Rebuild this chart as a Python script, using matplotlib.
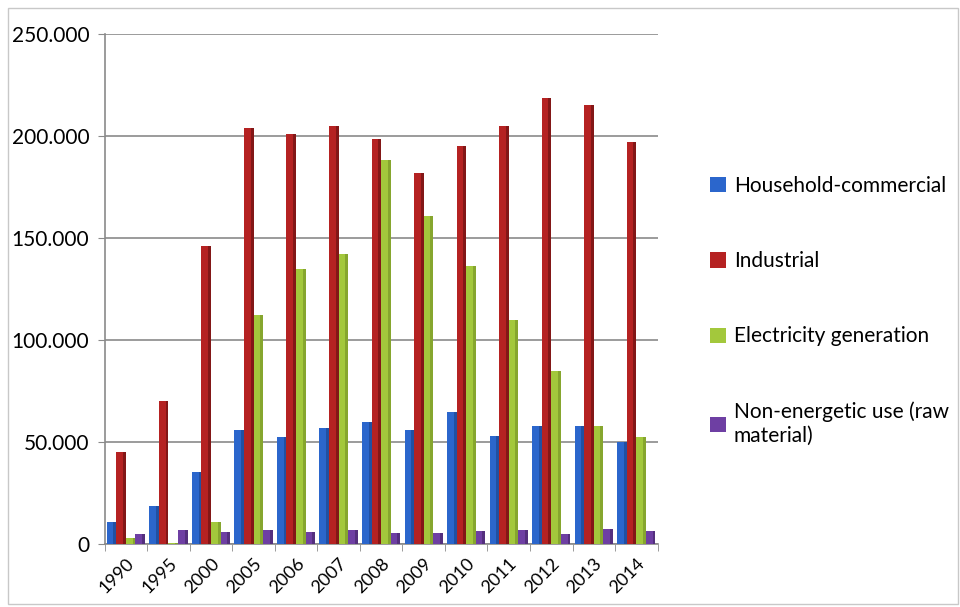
import numpy as np
import matplotlib.pyplot as plt
from matplotlib.ticker import FuncFormatter, FixedLocator
from matplotlib.patches import Rectangle

plt.rcParams['font.family'] = ['Lato', 'DejaVu Sans']

years = ['1990', '1995', '2000', '2005', '2006', '2007', '2008', '2009',
         '2010', '2011', '2012', '2013', '2014']
household = [10800, 18600, 35000, 56000, 52500, 57000, 60000, 56000, 64700, 53000, 58000, 58000, 50000]
industrial = [45000, 70000, 146000, 204000, 201000, 205000, 198500, 182000, 195000, 205000, 218600, 215000, 197000]
electricity = [3000, 500, 10500, 112000, 135000, 142000, 188000, 161000, 136000, 110000, 85000, 58000, 52500]
non_energetic = [5000, 7000, 6000, 7000, 6000, 7000, 5500, 5500, 6500, 7000, 5000, 7500, 6500]

series = [
    ('Household-commercial', household, '#2b66cc', '#1a3f80'),
    ('Industrial', industrial, '#b52222', '#5a0f0f'),
    ('Electricity generation', electricity, '#a3c83c', '#6f8a24'),
    ('Non-energetic use (raw\nmaterial)', non_energetic, '#6e3fa3', '#3f2360'),
]

fig = plt.figure(figsize=(9.6, 6.07), dpi=100)
ax = fig.add_axes([0.109, 0.104, 0.576, 0.84])

x = np.arange(len(years))
w = 0.225
handles = []
for i, (name, vals, col, dark) in enumerate(series):
    pos = x + (i - 1.5) * w
    b = ax.bar(pos, vals, width=w, color=col, zorder=3, label=name)
    # darker strip on the right side for the 3D look
    ax.bar(pos + w * 0.35, vals, width=w * 0.3, color=dark, zorder=3, alpha=0.55)
    handles.append(b)

ax.set_xlim(-0.5, len(years) - 0.5)
ax.set_ylim(0, 250000)
ax.set_yticks(np.arange(0, 250001, 50000))
ax.yaxis.set_major_formatter(FuncFormatter(lambda v, p: '0' if v == 0 else f'{int(v):,}'.replace(',', '.')))
ax.grid(axis='y', color='#8a8a8a', linewidth=1.2, zorder=0)

ax.set_xticks(x)
ax.set_xticklabels(years, rotation=45, ha='right', rotation_mode='anchor', fontsize=13)
ax.xaxis.set_minor_locator(FixedLocator(np.arange(-0.5, len(years), 1)))
ax.tick_params(axis='x', which='major', length=0, pad=8)
ax.tick_params(axis='x', which='minor', length=5, color='#8a8a8a')
ax.tick_params(axis='y', length=5, color='#8a8a8a', labelsize=15, pad=6)

for s in ['top', 'right']:
    ax.spines[s].set_visible(False)
for s in ['left', 'bottom']:
    ax.spines[s].set_color('#8a8a8a')
    ax.spines[s].set_linewidth(1.2)

fig.legend(handles=handles, loc='center left', bbox_to_anchor=(0.72, 0.488),
           frameon=False, fontsize=15, labelspacing=2.65, handlelength=0.75,
           handleheight=0.75, handletextpad=0.4)

fig.patches.append(Rectangle((0.008, 0.005), 0.99, 0.982, transform=fig.transFigure,
                             fill=False, edgecolor='#c8c8c8', linewidth=1))

fig.savefig('out.png', dpi=100)
